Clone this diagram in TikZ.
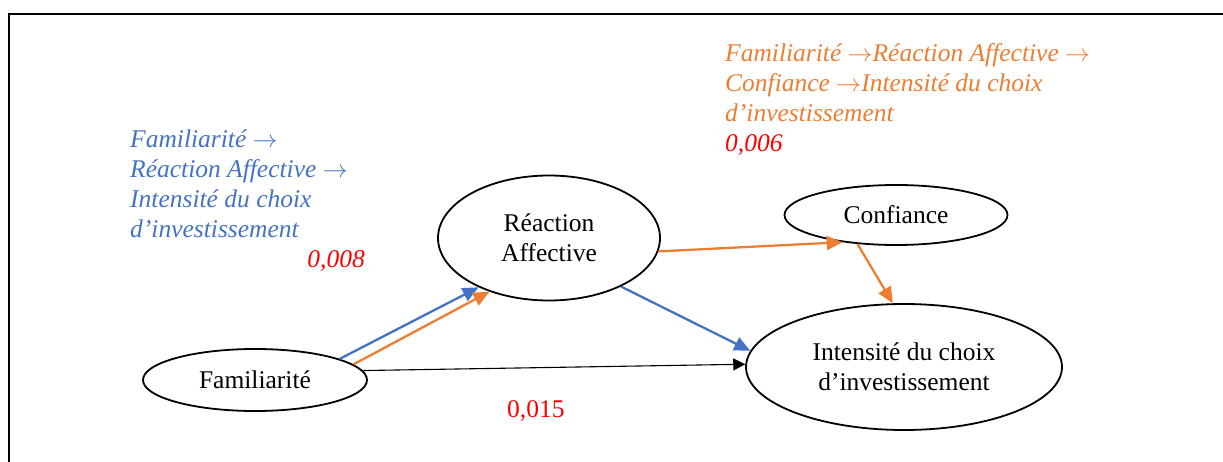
\documentclass[tikz,border=0pt]{standalone}
\usepackage{fontspec}
\setmainfont{Liberation Serif}
\usetikzlibrary{shapes.geometric,arrows.meta}
\definecolor{pathblue}{HTML}{4472C4}
\definecolor{pathorange}{HTML}{ED7D31}
\definecolor{effred}{HTML}{FF0000}
\newcommand{\pathto}{$\rightarrow$}

\begin{document}
\begin{tikzpicture}[x=1pt,y=-1pt,
  construct/.style={ellipse, draw, line width=1.8pt, inner sep=0pt, align=center,
    font=\fontsize{25.5}{29.5}\selectfont},
  blueflow/.style={draw=pathblue, line width=2.3pt, -{Triangle[length=16pt,width=14pt]}},
  orangeflow/.style={draw=pathorange, line width=2.3pt, -{Triangle[length=16pt,width=14pt]}},
  directflow/.style={draw=black, line width=1.1pt, -{Triangle[length=12pt,width=12pt]}},
  pathlabel/.style={anchor=base west, inner sep=0pt, font=\fontsize{25.5}{30}\selectfont\itshape},
  effect/.style={inner sep=0pt, text=effred, font=\fontsize{25.5}{30}\selectfont}
]
\useasboundingbox (0,0) rectangle (1223,462);

% frame
\draw[line width=2.6pt] (9,462) -- (9,14) -- (1223,14);

% constructs
\node[construct, minimum width=224pt, minimum height=62pt] (fam) at (255,380) {Familiarité};
\node[construct, minimum width=222pt, minimum height=125pt] (rea) at (549,238) {Réaction\\Affective};
\node[construct, minimum width=223pt, minimum height=60pt] (conf) at (896,215) {Confiance};
\node[construct, minimum width=316pt, minimum height=126pt] (int) at (904,367) {Intensité du choix\\d’investissement};

% paths
\draw[blueflow] (fam.14) -- (rea.215);
\draw[orangeflow] (fam.9) -- (rea.222);
\draw[directflow] (fam.5) -- (int.179);
\draw[orangeflow] (rea.-7) -- (conf.207);
\draw[orangeflow] (conf.217) -- (int.100);
\draw[blueflow] (rea.-34) -- (int.174);

% indirect path via affective reaction
\node[pathlabel, text=pathblue] (b1) at (130,148) {Familiarité \pathto};
\node[pathlabel, text=pathblue] (b2) at (130,178) {Réaction Affective \pathto};
\node[pathlabel, text=pathblue] (b3) at (130,208) {Intensité du choix};
\node[pathlabel, text=pathblue] (b4) at (130,238) {d’investissement};
\node[effect, anchor=base east, font=\fontsize{25.5}{30}\selectfont\itshape] (eb) at (365,268) {0,008};

% indirect path via affective reaction and trust
\node[pathlabel, text=pathorange] (o1) at (725,62) {Familiarité \pathto Réaction Affective \pathto};
\node[pathlabel, text=pathorange] (o2) at (725,92) {Confiance \pathto Intensité du choix};
\node[pathlabel, text=pathorange] (o3) at (725,122) {d’investissement};
\node[effect, anchor=base west, font=\fontsize{25.5}{30}\selectfont\itshape] (eo) at (725,152) {0,006};

% direct effect
\node[effect, anchor=base west] (ed) at (507,417) {0,015};
\end{tikzpicture}
\end{document}
